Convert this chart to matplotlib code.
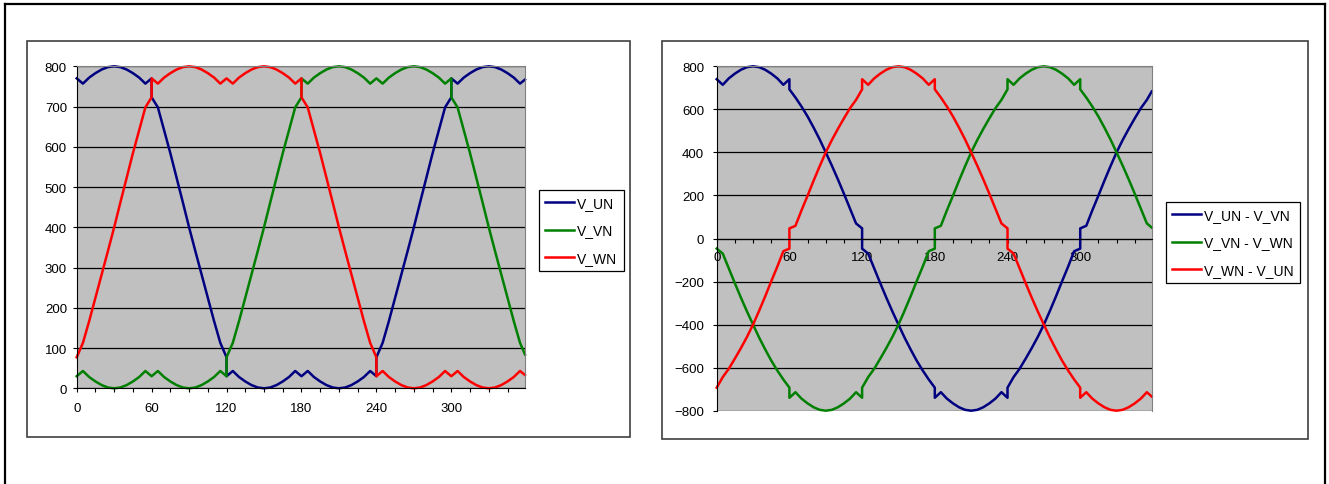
import numpy as np
import matplotlib.pyplot as plt
from matplotlib.patches import Rectangle
from matplotlib.lines import Line2D

plt.rcParams['font.family'] = ['Liberation Sans', 'DejaVu Sans']
plt.rcParams['font.size'] = 9.5

W, H = 1329, 485

# angle in degrees (points repeated where the phase voltage jumps)
angle = [0, 5, 10, 15, 20, 25, 30, 35, 40, 45, 50, 55, 60,
         60, 65, 70, 75, 80, 85, 90, 95, 100, 105, 110, 115, 120,
         120, 125, 130, 135, 140, 145, 150, 155, 160, 165, 170, 175, 180,
         180, 185, 190, 195, 200, 205, 210, 215, 220, 225, 230, 235, 240,
         240, 245, 250, 255, 260, 265, 270, 275, 280, 285, 290, 295, 300,
         300, 305, 310, 315, 320, 325, 330, 335, 340, 345, 350, 355, 359]

v_un = [770, 757, 772, 783, 792, 798, 800, 798, 792, 783, 772, 757, 770,
        723, 698, 641, 584, 523, 462, 400, 341, 283, 225, 167, 113, 77,
        30, 43, 28, 17, 8, 2, 0, 2, 8, 17, 28, 43, 30,
        30, 43, 28, 17, 8, 2, 0, 2, 8, 17, 28, 43, 30,
        77, 113, 167, 225, 283, 341, 400, 462, 523, 584, 641, 698, 723,
        770, 757, 772, 783, 792, 798, 800, 798, 792, 783, 772, 757, 767]

v_vn = [30, 43, 28, 17, 8, 2, 0, 2, 8, 17, 28, 43, 30,
        30, 43, 28, 17, 8, 2, 0, 2, 8, 17, 28, 43, 30,
        77, 113, 167, 225, 283, 341, 400, 462, 523, 584, 641, 698, 723,
        770, 757, 772, 783, 792, 798, 800, 798, 792, 783, 772, 757, 770,
        770, 757, 772, 783, 792, 798, 800, 798, 792, 783, 772, 757, 770,
        723, 698, 641, 584, 523, 462, 400, 341, 283, 225, 167, 113, 84]

v_wn = [77, 113, 167, 225, 283, 341, 400, 462, 523, 584, 641, 698, 723,
        770, 757, 772, 783, 792, 798, 800, 798, 792, 783, 772, 757, 770,
        770, 757, 772, 783, 792, 798, 800, 798, 792, 783, 772, 757, 770,
        723, 698, 641, 584, 523, 462, 400, 341, 283, 225, 167, 113, 77,
        30, 43, 28, 17, 8, 2, 0, 2, 8, 17, 28, 43, 30,
        30, 43, 28, 17, 8, 2, 0, 2, 8, 17, 28, 43, 33]

x_labels = [0, 60, 120, 180, 240, 300]
navy, green, red = '#000080', '#008000', '#FF0000'

un, vn, wn = np.array(v_un), np.array(v_vn), np.array(v_wn)


def fx(px):
    return px / W


def fy(py):
    return 1 - py / H


fig = plt.figure(figsize=(W / 100, H / 100), dpi=100)

# outer frame (open at the bottom) and the two chart boxes
for xs, ys in [([5, 5], [H, 5]), ([5, 1325], [5, 5]), ([1325, 1325], [5, H])]:
    fig.add_artist(Line2D([fx(x) for x in xs], [fy(y) for y in ys], color='black', lw=1.6))
for x0, y0, x1, y1 in [(27, 42, 630, 438), (662, 42, 1308, 440)]:
    fig.add_artist(Rectangle((fx(x0), fy(y1)), fx(x1 - x0), (y1 - y0) / H,
                             transform=fig.transFigure, fill=False,
                             edgecolor='#404040', lw=1.2))


def style(ax, yticks):
    ax.set_facecolor('#C0C0C0')
    ax.set_xlim(0, 359)
    ax.set_ylim(yticks[0], yticks[-1])
    ax.set_yticks(yticks)
    ax.set_xticks(x_labels)
    ax.set_xticks(np.arange(0, 360, 15), minor=True)
    ax.yaxis.grid(True, color='black', lw=0.9)
    ax.set_axisbelow(True)
    for s in ['top', 'right']:
        ax.spines[s].set_color('#808080')
    for s in ['left', 'bottom']:
        ax.spines[s].set_color('black')
    ax.tick_params(which='both', direction='out', length=3, width=0.8)
    ax.tick_params(axis='y', pad=4)


# left: phase voltages
ax1 = fig.add_axes([fx(76.7), fy(389.3), (525 - 76.7) / W, 322 / H])
style(ax1, list(range(0, 801, 100)))
ax1.tick_params(axis='x', pad=7)
ax1.plot(angle, v_un, color=navy, lw=1.8, label='V_UN', clip_on=False)
ax1.plot(angle, v_vn, color=green, lw=1.8, label='V_VN', clip_on=False)
ax1.plot(angle, v_wn, color=red, lw=1.8, label='V_WN', clip_on=False)

# right: line-to-line voltages
ax2 = fig.add_axes([fx(716.7), fy(411.7), (1151.7 - 716.7) / W, 344.4 / H])
style(ax2, list(range(-800, 801, 200)))
ax2.spines['bottom'].set_position(('data', 0))
ax2.tick_params(axis='x', pad=6)
ax2.tick_params(axis='y', pad=6)
ax2.plot(angle, un - vn, color=navy, lw=1.8, label='V_UN - V_VN', clip_on=False)
ax2.plot(angle, vn - wn, color=green, lw=1.8, label='V_VN - V_WN', clip_on=False)
ax2.plot(angle, wn - un, color=red, lw=1.8, label='V_WN - V_UN', clip_on=False)

for ax, (lx, ly) in [(ax1, (539, 191)), (ax2, (1166, 203))]:
    leg = ax.legend(loc='upper left', bbox_to_anchor=(fx(lx), fy(ly)),
                    bbox_transform=fig.transFigure, borderaxespad=0,
                    fancybox=False, edgecolor='black', framealpha=1,
                    fontsize=10, handlelength=2.1, handletextpad=0.2,
                    labelspacing=0.95, borderpad=0.45)
    leg.get_frame().set_linewidth(0.9)

fig.savefig('out.png', dpi=100)
